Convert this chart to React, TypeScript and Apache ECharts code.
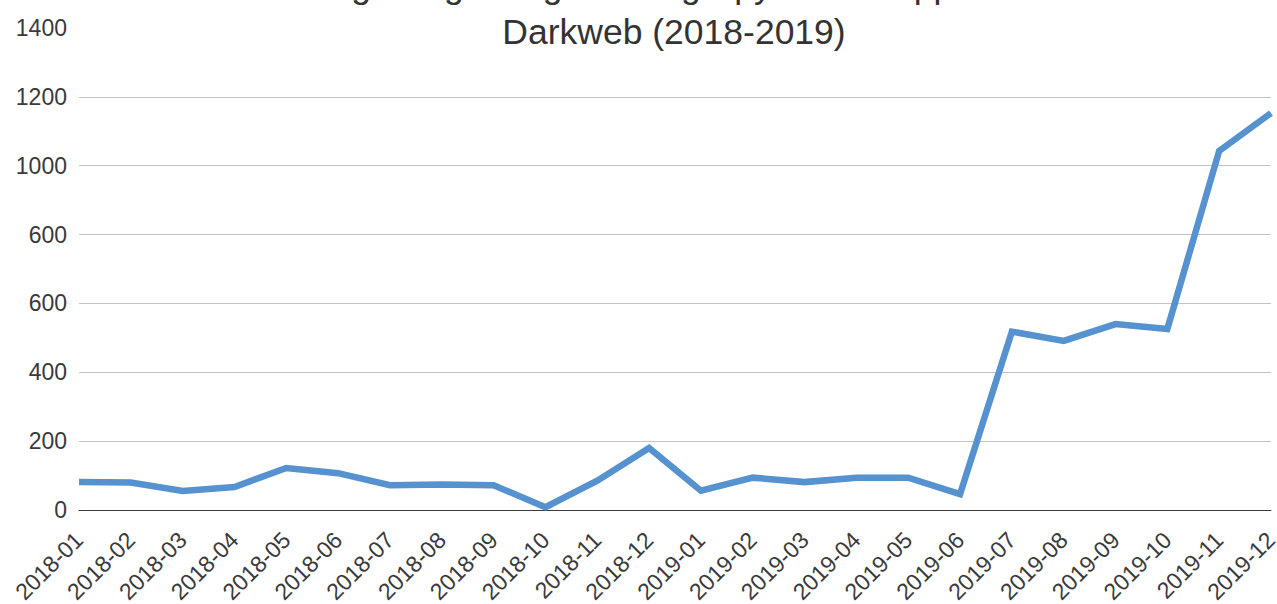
import React, { useEffect, useRef } from "react";
import * as echarts from "echarts";

const titleLine1 = "Listings Regarding Hacking Spyware & Apps on the";
const titleLine2 = "Darkweb (2018-2019)";

const months = [
  "2018-01", "2018-02", "2018-03", "2018-04", "2018-05", "2018-06",
  "2018-07", "2018-08", "2018-09", "2018-10", "2018-11", "2018-12",
  "2019-01", "2019-02", "2019-03", "2019-04", "2019-05", "2019-06",
  "2019-07", "2019-08", "2019-09", "2019-10", "2019-11", "2019-12",
];

const listings = [
  81, 80, 55, 67, 122, 107,
  72, 74, 72, 8, 85, 180,
  56, 94, 81, 94, 94, 46,
  518, 491, 540, 526, 1043, 1153,
];

const yTickLabels = ["0", "200", "400", "600", "600", "1000", "1200", "1400"];

const FONT = "'Liberation Sans', Arial, sans-serif";

export default function App() {
  const ref = useRef<HTMLDivElement>(null);

  useEffect(() => {
    if (!ref.current) return;
    const chart = echarts.init(ref.current, undefined, { renderer: "svg" });
    chart.setOption({
      animation: false,
      backgroundColor: "#ffffff",
      textStyle: { fontFamily: FONT },
      graphic: [
        {
          type: "text",
          x: 674,
          y: -14,
          style: {
            text: titleLine1,
            fontSize: 35.5,
            fontFamily: FONT,
            fill: "#333333",
            textAlign: "center",
            textVerticalAlign: "middle",
          },
        },
        {
          type: "text",
          x: 674,
          y: 32,
          style: {
            text: titleLine2,
            fontSize: 35.5,
            fontFamily: FONT,
            fill: "#333333",
            textAlign: "center",
            textVerticalAlign: "middle",
          },
        },
      ],
      grid: {
        left: 79,
        right: 6,
        top: 28,
        bottom: 94,
        containLabel: false,
        outerBoundsMode: "none",
      },
      xAxis: {
        type: "category",
        data: months,
        boundaryGap: false,
        axisLine: { show: true, lineStyle: { color: "#3c3c3c", width: 1 } },
        axisTick: { show: false },
        axisLabel: {
          rotate: 45,
          interval: 0,
          fontSize: 23,
          color: "#3a3a3a",
          fontFamily: FONT,
          margin: 26,
        },
        splitLine: { show: false },
      },
      yAxis: {
        type: "value",
        min: 0,
        max: 1400,
        interval: 200,
        axisLine: { show: false },
        axisTick: { show: false },
        axisLabel: {
          fontSize: 23,
          color: "#3a3a3a",
          fontFamily: FONT,
          margin: 12,
          formatter: (v: number) => yTickLabels[Math.round(v / 200)] ?? String(v),
        },
        splitLine: {
          show: true,
          lineStyle: {
            color: [
              "#3c3c3c", "#c4c4c4", "#c4c4c4", "#c4c4c4",
              "#c4c4c4", "#c4c4c4", "#c4c4c4", "rgba(0,0,0,0)",
            ],
            width: 1,
          },
        },
      },
      series: [
        {
          type: "line",
          data: listings,
          symbol: "none",
          lineStyle: { color: "#5592cf", width: 6.5, join: "miter" },
          z: 3,
        },
      ],
    });
    return () => chart.dispose();
  }, []);

  return (
    <div
      ref={ref}
      style={{ position: "fixed", left: 0, top: 0, width: 1277, height: 604 }}
    />
  );
}
